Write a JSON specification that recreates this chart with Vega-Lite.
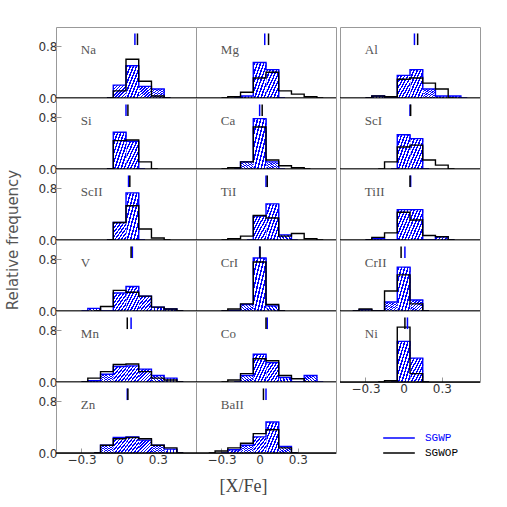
{
"$schema":"https://vega.github.io/schema/vega-lite/v6.json",
"padding":{"left":5,"top":26,"right":5,"bottom":5},
"title":{"text":"[X/Fe]","orient":"bottom","anchor":"middle","font":"Liberation Serif","fontSize":18,"fontWeight":"normal","color":"#444","offset":13},
"data":{"values":[
{"e":"Na","g":"SGWP","x":-0.1,"f":0},{"e":"Na","g":"SGWP","x":0,"f":0.2},{"e":"Na","g":"SGWP","x":0.1,"f":0.5},{"e":"Na","g":"SGWP","x":0.2,"f":0.18},{"e":"Na","g":"SGWP","x":0.3,"f":0.14},{"e":"Na","g":"SGWP","x":0.4,"f":0},
{"e":"Na","g":"SGWOP","x":-0.1,"f":0},{"e":"Na","g":"SGWOP","x":0,"f":0.11},{"e":"Na","g":"SGWOP","x":0.1,"f":0.6},{"e":"Na","g":"SGWOP","x":0.2,"f":0.26},{"e":"Na","g":"SGWOP","x":0.3,"f":0.03},{"e":"Na","g":"SGWOP","x":0.4,"f":0},
{"e":"Mg","g":"SGWP","x":-0.2,"f":0},{"e":"Mg","g":"SGWP","x":-0.1,"f":0.03},{"e":"Mg","g":"SGWP","x":0,"f":0.55},{"e":"Mg","g":"SGWP","x":0.1,"f":0.44},{"e":"Mg","g":"SGWP","x":0.2,"f":0},
{"e":"Mg","g":"SGWOP","x":-0.3,"f":0},{"e":"Mg","g":"SGWOP","x":-0.2,"f":0.02},{"e":"Mg","g":"SGWOP","x":-0.1,"f":0.09},{"e":"Mg","g":"SGWOP","x":0,"f":0.31},{"e":"Mg","g":"SGWOP","x":0.1,"f":0.4},{"e":"Mg","g":"SGWOP","x":0.2,"f":0.11},{"e":"Mg","g":"SGWOP","x":0.3,"f":0.06},{"e":"Mg","g":"SGWOP","x":0.4,"f":0.02},{"e":"Mg","g":"SGWOP","x":0.5,"f":0},
{"e":"Al","g":"SGWP","x":-0.3,"f":0},{"e":"Al","g":"SGWP","x":-0.2,"f":0.03},{"e":"Al","g":"SGWP","x":-0.1,"f":0},{"e":"Al","g":"SGWP","x":0,"f":0.35},{"e":"Al","g":"SGWP","x":0.1,"f":0.44},{"e":"Al","g":"SGWP","x":0.2,"f":0.14},{"e":"Al","g":"SGWP","x":0.3,"f":0.03},{"e":"Al","g":"SGWP","x":0.4,"f":0.03},{"e":"Al","g":"SGWP","x":0.5,"f":0},
{"e":"Al","g":"SGWOP","x":-0.3,"f":0},{"e":"Al","g":"SGWOP","x":-0.2,"f":0.03},{"e":"Al","g":"SGWOP","x":-0.1,"f":0.02},{"e":"Al","g":"SGWOP","x":0,"f":0.29},{"e":"Al","g":"SGWOP","x":0.1,"f":0.31},{"e":"Al","g":"SGWOP","x":0.2,"f":0.23},{"e":"Al","g":"SGWOP","x":0.3,"f":0.14},{"e":"Al","g":"SGWOP","x":0.4,"f":0},
{"e":"Si","g":"SGWP","x":-0.1,"f":0},{"e":"Si","g":"SGWP","x":0,"f":0.57},{"e":"Si","g":"SGWP","x":0.1,"f":0.43},{"e":"Si","g":"SGWP","x":0.2,"f":0},
{"e":"Si","g":"SGWOP","x":-0.1,"f":0},{"e":"Si","g":"SGWOP","x":0,"f":0.44},{"e":"Si","g":"SGWOP","x":0.1,"f":0.45},{"e":"Si","g":"SGWOP","x":0.2,"f":0.11},{"e":"Si","g":"SGWOP","x":0.3,"f":0},
{"e":"Ca","g":"SGWP","x":-0.2,"f":0},{"e":"Ca","g":"SGWP","x":-0.1,"f":0.11},{"e":"Ca","g":"SGWP","x":0,"f":0.78},{"e":"Ca","g":"SGWP","x":0.1,"f":0.11},{"e":"Ca","g":"SGWP","x":0.2,"f":0},
{"e":"Ca","g":"SGWOP","x":-0.3,"f":0},{"e":"Ca","g":"SGWOP","x":-0.2,"f":0.02},{"e":"Ca","g":"SGWOP","x":-0.1,"f":0.11},{"e":"Ca","g":"SGWOP","x":0,"f":0.65},{"e":"Ca","g":"SGWOP","x":0.1,"f":0.14},{"e":"Ca","g":"SGWOP","x":0.2,"f":0.05},{"e":"Ca","g":"SGWOP","x":0.3,"f":0.02},{"e":"Ca","g":"SGWOP","x":0.4,"f":0},
{"e":"ScI","g":"SGWP","x":-0.1,"f":0},{"e":"ScI","g":"SGWP","x":0,"f":0.53},{"e":"ScI","g":"SGWP","x":0.1,"f":0.47},{"e":"ScI","g":"SGWP","x":0.2,"f":0},
{"e":"ScI","g":"SGWOP","x":-0.2,"f":0},{"e":"ScI","g":"SGWOP","x":-0.1,"f":0.11},{"e":"ScI","g":"SGWOP","x":0,"f":0.34},{"e":"ScI","g":"SGWOP","x":0.1,"f":0.37},{"e":"ScI","g":"SGWOP","x":0.2,"f":0.14},{"e":"ScI","g":"SGWOP","x":0.3,"f":0.06},{"e":"ScI","g":"SGWOP","x":0.4,"f":0},
{"e":"ScII","g":"SGWP","x":-0.1,"f":0},{"e":"ScII","g":"SGWP","x":0,"f":0.27},{"e":"ScII","g":"SGWP","x":0.1,"f":0.73},{"e":"ScII","g":"SGWP","x":0.2,"f":0},
{"e":"ScII","g":"SGWOP","x":-0.1,"f":0},{"e":"ScII","g":"SGWOP","x":0,"f":0.27},{"e":"ScII","g":"SGWOP","x":0.1,"f":0.53},{"e":"ScII","g":"SGWOP","x":0.2,"f":0.17},{"e":"ScII","g":"SGWOP","x":0.3,"f":0.03},{"e":"ScII","g":"SGWOP","x":0.4,"f":0},
{"e":"TiI","g":"SGWP","x":-0.1,"f":0},{"e":"TiI","g":"SGWP","x":0,"f":0.37},{"e":"TiI","g":"SGWP","x":0.1,"f":0.56},{"e":"TiI","g":"SGWP","x":0.2,"f":0.08},{"e":"TiI","g":"SGWP","x":0.3,"f":0},
{"e":"TiI","g":"SGWOP","x":-0.3,"f":0},{"e":"TiI","g":"SGWOP","x":-0.2,"f":0.02},{"e":"TiI","g":"SGWOP","x":-0.1,"f":0.06},{"e":"TiI","g":"SGWOP","x":0,"f":0.38},{"e":"TiI","g":"SGWOP","x":0.1,"f":0.34},{"e":"TiI","g":"SGWOP","x":0.2,"f":0.06},{"e":"TiI","g":"SGWOP","x":0.3,"f":0.1},{"e":"TiI","g":"SGWOP","x":0.4,"f":0.02},{"e":"TiI","g":"SGWOP","x":0.5,"f":0},
{"e":"TiII","g":"SGWP","x":-0.3,"f":0},{"e":"TiII","g":"SGWP","x":-0.2,"f":0.02},{"e":"TiII","g":"SGWP","x":-0.1,"f":0},{"e":"TiII","g":"SGWP","x":0,"f":0.47},{"e":"TiII","g":"SGWP","x":0.1,"f":0.47},{"e":"TiII","g":"SGWP","x":0.2,"f":0},{"e":"TiII","g":"SGWP","x":0.3,"f":0.05},{"e":"TiII","g":"SGWP","x":0.4,"f":0},
{"e":"TiII","g":"SGWOP","x":-0.3,"f":0},{"e":"TiII","g":"SGWOP","x":-0.2,"f":0.04},{"e":"TiII","g":"SGWOP","x":-0.1,"f":0.11},{"e":"TiII","g":"SGWOP","x":0,"f":0.43},{"e":"TiII","g":"SGWOP","x":0.1,"f":0.31},{"e":"TiII","g":"SGWOP","x":0.2,"f":0.07},{"e":"TiII","g":"SGWOP","x":0.3,"f":0.05},{"e":"TiII","g":"SGWOP","x":0.4,"f":0},
{"e":"V","g":"SGWP","x":-0.3,"f":0},{"e":"V","g":"SGWP","x":-0.2,"f":0.04},{"e":"V","g":"SGWP","x":-0.1,"f":0},{"e":"V","g":"SGWP","x":0,"f":0.28},{"e":"V","g":"SGWP","x":0.1,"f":0.38},{"e":"V","g":"SGWP","x":0.2,"f":0.23},{"e":"V","g":"SGWP","x":0.3,"f":0.06},{"e":"V","g":"SGWP","x":0.4,"f":0.03},{"e":"V","g":"SGWP","x":0.5,"f":0},
{"e":"V","g":"SGWOP","x":-0.2,"f":0},{"e":"V","g":"SGWOP","x":-0.1,"f":0.07},{"e":"V","g":"SGWOP","x":0,"f":0.32},{"e":"V","g":"SGWOP","x":0.1,"f":0.29},{"e":"V","g":"SGWOP","x":0.2,"f":0.23},{"e":"V","g":"SGWOP","x":0.3,"f":0.06},{"e":"V","g":"SGWOP","x":0.4,"f":0.03},{"e":"V","g":"SGWOP","x":0.5,"f":0},
{"e":"CrI","g":"SGWP","x":-0.3,"f":0},{"e":"CrI","g":"SGWP","x":-0.2,"f":0.01},{"e":"CrI","g":"SGWP","x":-0.1,"f":0.1},{"e":"CrI","g":"SGWP","x":0,"f":0.82},{"e":"CrI","g":"SGWP","x":0.1,"f":0.08},{"e":"CrI","g":"SGWP","x":0.2,"f":0},
{"e":"CrI","g":"SGWOP","x":-0.3,"f":0},{"e":"CrI","g":"SGWOP","x":-0.2,"f":0.03},{"e":"CrI","g":"SGWOP","x":-0.1,"f":0.11},{"e":"CrI","g":"SGWOP","x":0,"f":0.76},{"e":"CrI","g":"SGWOP","x":0.1,"f":0.1},{"e":"CrI","g":"SGWOP","x":0.2,"f":0},
{"e":"CrII","g":"SGWP","x":-0.4,"f":0},{"e":"CrII","g":"SGWP","x":-0.3,"f":0.02},{"e":"CrII","g":"SGWP","x":-0.2,"f":0},{"e":"CrII","g":"SGWP","x":-0.1,"f":0.14},{"e":"CrII","g":"SGWP","x":0,"f":0.68},{"e":"CrII","g":"SGWP","x":0.1,"f":0.17},{"e":"CrII","g":"SGWP","x":0.2,"f":0},
{"e":"CrII","g":"SGWOP","x":-0.4,"f":0},{"e":"CrII","g":"SGWOP","x":-0.3,"f":0.03},{"e":"CrII","g":"SGWOP","x":-0.2,"f":0},{"e":"CrII","g":"SGWOP","x":-0.1,"f":0.31},{"e":"CrII","g":"SGWOP","x":0,"f":0.56},{"e":"CrII","g":"SGWOP","x":0.1,"f":0.11},{"e":"CrII","g":"SGWOP","x":0.2,"f":0},
{"e":"Mn","g":"SGWP","x":-0.3,"f":0},{"e":"Mn","g":"SGWP","x":-0.2,"f":0.02},{"e":"Mn","g":"SGWP","x":-0.1,"f":0.12},{"e":"Mn","g":"SGWP","x":0,"f":0.24},{"e":"Mn","g":"SGWP","x":0.1,"f":0.25},{"e":"Mn","g":"SGWP","x":0.2,"f":0.2},{"e":"Mn","g":"SGWP","x":0.3,"f":0.1},{"e":"Mn","g":"SGWP","x":0.4,"f":0.06},{"e":"Mn","g":"SGWP","x":0.5,"f":0},
{"e":"Mn","g":"SGWOP","x":-0.3,"f":0},{"e":"Mn","g":"SGWOP","x":-0.2,"f":0.06},{"e":"Mn","g":"SGWOP","x":-0.1,"f":0.16},{"e":"Mn","g":"SGWOP","x":0,"f":0.27},{"e":"Mn","g":"SGWOP","x":0.1,"f":0.28},{"e":"Mn","g":"SGWOP","x":0.2,"f":0.16},{"e":"Mn","g":"SGWOP","x":0.3,"f":0.06},{"e":"Mn","g":"SGWOP","x":0.4,"f":0.03},{"e":"Mn","g":"SGWOP","x":0.5,"f":0},
{"e":"Co","g":"SGWP","x":-0.2,"f":0},{"e":"Co","g":"SGWP","x":-0.1,"f":0.1},{"e":"Co","g":"SGWP","x":0,"f":0.43},{"e":"Co","g":"SGWP","x":0.1,"f":0.3},{"e":"Co","g":"SGWP","x":0.2,"f":0.07},{"e":"Co","g":"SGWP","x":0.3,"f":0},{"e":"Co","g":"SGWP","x":0.4,"f":0.1},{"e":"Co","g":"SGWP","x":0.5,"f":0},
{"e":"Co","g":"SGWOP","x":-0.3,"f":0},{"e":"Co","g":"SGWOP","x":-0.2,"f":0.03},{"e":"Co","g":"SGWOP","x":-0.1,"f":0.13},{"e":"Co","g":"SGWOP","x":0,"f":0.36},{"e":"Co","g":"SGWOP","x":0.1,"f":0.33},{"e":"Co","g":"SGWOP","x":0.2,"f":0.1},{"e":"Co","g":"SGWOP","x":0.3,"f":0.05},{"e":"Co","g":"SGWOP","x":0.4,"f":0},
{"e":"Ni","g":"SGWP","x":-0.1,"f":0},{"e":"Ni","g":"SGWP","x":0,"f":0.63},{"e":"Ni","g":"SGWP","x":0.1,"f":0.37},{"e":"Ni","g":"SGWP","x":0.2,"f":0},
{"e":"Ni","g":"SGWOP","x":-0.2,"f":0},{"e":"Ni","g":"SGWOP","x":-0.1,"f":0.02},{"e":"Ni","g":"SGWOP","x":0,"f":0.85},{"e":"Ni","g":"SGWOP","x":0.1,"f":0.13},{"e":"Ni","g":"SGWOP","x":0.2,"f":0},
{"e":"Zn","g":"SGWP","x":-0.2,"f":0},{"e":"Zn","g":"SGWP","x":-0.1,"f":0.12},{"e":"Zn","g":"SGWP","x":0,"f":0.24},{"e":"Zn","g":"SGWP","x":0.1,"f":0.25},{"e":"Zn","g":"SGWP","x":0.2,"f":0.2},{"e":"Zn","g":"SGWP","x":0.3,"f":0.12},{"e":"Zn","g":"SGWP","x":0.4,"f":0.06},{"e":"Zn","g":"SGWP","x":0.5,"f":0},
{"e":"Zn","g":"SGWOP","x":-0.2,"f":0},{"e":"Zn","g":"SGWOP","x":-0.1,"f":0.12},{"e":"Zn","g":"SGWOP","x":0,"f":0.22},{"e":"Zn","g":"SGWOP","x":0.1,"f":0.24},{"e":"Zn","g":"SGWOP","x":0.2,"f":0.22},{"e":"Zn","g":"SGWOP","x":0.3,"f":0.12},{"e":"Zn","g":"SGWOP","x":0.4,"f":0.08},{"e":"Zn","g":"SGWOP","x":0.5,"f":0},
{"e":"BaII","g":"SGWP","x":-0.3,"f":0},{"e":"BaII","g":"SGWP","x":-0.2,"f":0.05},{"e":"BaII","g":"SGWP","x":-0.1,"f":0.12},{"e":"BaII","g":"SGWP","x":0,"f":0.25},{"e":"BaII","g":"SGWP","x":0.1,"f":0.48},{"e":"BaII","g":"SGWP","x":0.2,"f":0.1},{"e":"BaII","g":"SGWP","x":0.3,"f":0},
{"e":"BaII","g":"SGWOP","x":-0.4,"f":0},{"e":"BaII","g":"SGWOP","x":-0.3,"f":0.03},{"e":"BaII","g":"SGWOP","x":-0.2,"f":0.08},{"e":"BaII","g":"SGWOP","x":-0.1,"f":0.15},{"e":"BaII","g":"SGWOP","x":0,"f":0.3},{"e":"BaII","g":"SGWOP","x":0.1,"f":0.36},{"e":"BaII","g":"SGWOP","x":0.2,"f":0.08},{"e":"BaII","g":"SGWOP","x":0.3,"f":0},
{"e":"Na","g":"SGWP","m":0.12},{"e":"Na","g":"SGWOP","m":0.14},
{"e":"Mg","g":"SGWP","m":0.04},{"e":"Mg","g":"SGWOP","m":0.07},
{"e":"Al","g":"SGWP","m":0.085},{"e":"Al","g":"SGWOP","m":0.11},
{"e":"Si","g":"SGWP","m":0.05},{"e":"Si","g":"SGWOP","m":0.065},
{"e":"Ca","g":"SGWP","m":0.0},{"e":"Ca","g":"SGWOP","m":0.02},
{"e":"ScI","g":"SGWP","m":0.05},{"e":"ScI","g":"SGWOP","m":0.055},
{"e":"ScII","g":"SGWP","m":0.07},{"e":"ScII","g":"SGWOP","m":0.08},
{"e":"TiI","g":"SGWP","m":0.05},{"e":"TiI","g":"SGWOP","m":0.06},
{"e":"TiII","g":"SGWP","m":0.055},{"e":"TiII","g":"SGWOP","m":0.05},
{"e":"V","g":"SGWP","m":0.1},{"e":"V","g":"SGWOP","m":0.09},
{"e":"CrI","g":"SGWP","m":0.0},{"e":"CrI","g":"SGWOP","m":0.003},
{"e":"CrII","g":"SGWP","m":0.01},{"e":"CrII","g":"SGWOP","m":-0.02},
{"e":"Mn","g":"SGWP","m":0.09},{"e":"Mn","g":"SGWOP","m":0.06},
{"e":"Co","g":"SGWP","m":0.06},{"e":"Co","g":"SGWOP","m":0.05},
{"e":"Ni","g":"SGWP","m":0.03},{"e":"Ni","g":"SGWOP","m":0.01},
{"e":"Zn","g":"SGWP","m":0.06},{"e":"Zn","g":"SGWOP","m":0.065},
{"e":"BaII","g":"SGWP","m":0.05},{"e":"BaII","g":"SGWOP","m":0.03}
]},
"spacing":0,
"hconcat":[
{
"transform":[{"filter":{"field":"e","oneOf":["Na","Mg","Si","Ca","ScII","TiI","V","CrI","Mn","Co","Zn","BaII"]}}],
"facet":{"field":"e","type":"nominal","sort":["Na","Mg","Si","Ca","ScII","TiI","V","CrI","Mn","Co","Zn","BaII"],
 "header":{"title":"Relative frequency","titleOrient":"left","titleAngle":-90,"titleAnchor":"middle","labels":false,"labelExpr":"''","labelFontSize":0,"labelPadding":0,"titleFont":"DejaVu Sans","titleFontSize":15,"titleFontWeight":"normal","titleColor":"#555","titlePadding":1}},
"columns":2,
"spacing":0,
"bounds":"flush",
"spec":{
 "width":140,"height":71,
 "layer":[
  {"transform":[{"filter":"datum.g === 'SGWP' && datum.f > 0"}],
   "mark":{"type":"bar","binSpacing":0,"clip":true,"strokeWidth":0,
    "fill":{"gradient":"linear","x1":0,"y1":0,"x2":1,"y2":1,"stops":[
     {"offset":0,"color":"#0000ff"},{"offset":0.06,"color":"#0000ff"},{"offset":0.06,"color":"#ffffff"},{"offset":0.125,"color":"#ffffff"},
     {"offset":0.125,"color":"#0000ff"},{"offset":0.185,"color":"#0000ff"},{"offset":0.185,"color":"#ffffff"},{"offset":0.25,"color":"#ffffff"},
     {"offset":0.25,"color":"#0000ff"},{"offset":0.31,"color":"#0000ff"},{"offset":0.31,"color":"#ffffff"},{"offset":0.375,"color":"#ffffff"},
     {"offset":0.375,"color":"#0000ff"},{"offset":0.435,"color":"#0000ff"},{"offset":0.435,"color":"#ffffff"},{"offset":0.5,"color":"#ffffff"},
     {"offset":0.5,"color":"#0000ff"},{"offset":0.56,"color":"#0000ff"},{"offset":0.56,"color":"#ffffff"},{"offset":0.625,"color":"#ffffff"},
     {"offset":0.625,"color":"#0000ff"},{"offset":0.685,"color":"#0000ff"},{"offset":0.685,"color":"#ffffff"},{"offset":0.75,"color":"#ffffff"},
     {"offset":0.75,"color":"#0000ff"},{"offset":0.81,"color":"#0000ff"},{"offset":0.81,"color":"#ffffff"},{"offset":0.875,"color":"#ffffff"},
     {"offset":0.875,"color":"#0000ff"},{"offset":0.935,"color":"#0000ff"},{"offset":0.935,"color":"#ffffff"},{"offset":1,"color":"#ffffff"}]}},
   "encoding":{
    "x":{"field":"x","type":"quantitative","bin":{"step":0.1,"extent":[-0.55,0.65],"nice":false},"scale":{"domain":[-0.445,0.515]},"title":null,
      "axis":{"values":[-0.3,0,0.3],"format":".1~f","domain":false,"grid":false,"tickSize":-5,"tickColor":"#999","labelPadding":6,"labelFont":"DejaVu Sans","labelFontSize":12,"labelColor":"#333"}},
    "y":{"field":"f","type":"quantitative","scale":{"domain":[0,1.01]},"title":null,
      "axis":{"values":[0,0.4,0.8],"domain":false,"grid":false,"tickSize":-5,"tickColor":"#999","labelPadding":4,"labelFont":"DejaVu Sans","labelFontSize":12,"labelColor":"#333"}}
   }},
  {"transform":[{"filter":"datum.g === 'SGWP' && isValid(datum.f)"}],
   "mark":{"type":"line","interpolate":"step","strokeWidth":1.4,"clip":true},
   "encoding":{"x":{"field":"x","type":"quantitative"},"y":{"field":"f","type":"quantitative"},
    "color":{"field":"g","type":"nominal","scale":{"domain":["SGWP","SGWOP"],"range":["#0000ff","#000000"]},
      "legend":{"orient":"none","legendX":326,"legendY":404,"title":null,"symbolType":"stroke","symbolSize":1000,"symbolStrokeWidth":1.5,"labelFont":"Liberation Mono","labelFontSize":11,"clipHeight":14,"rowPadding":1,"labelOffset":9,"padding":0,
        "encode":{"labels":{"update":{"fill":{"signal":"datum.value === 'SGWP' ? '#0000ff' : '#000000'"}}}}}}}},
  {"transform":[{"filter":"datum.g === 'SGWOP' && isValid(datum.f)"}],
   "mark":{"type":"line","interpolate":"step","strokeWidth":1.4,"clip":true},
   "encoding":{"x":{"field":"x","type":"quantitative"},"y":{"field":"f","type":"quantitative"},
    "color":{"field":"g","type":"nominal"}}},
  {"transform":[{"filter":"datum.g === 'SGWP' && isValid(datum.m)"}],
   "mark":{"type":"rule","color":"#000000","strokeWidth":1.4},
   "encoding":{"y":{"datum":0}}},
  {"transform":[{"filter":"isValid(datum.m)"}],
   "mark":{"type":"rule","strokeWidth":1.5},
   "encoding":{"x":{"field":"m","type":"quantitative"},"y":{"datum":1.0},"y2":{"datum":0.82},
    "color":{"field":"g","type":"nominal"}}},
  {"transform":[{"filter":"datum.g === 'SGWP' && isValid(datum.m)"}],
   "mark":{"type":"text","align":"left","baseline":"middle","font":"Liberation Serif","fontSize":13,"color":"#555"},
   "encoding":{"text":{"field":"e"},"x":{"datum":-0.305},"y":{"datum":0.75}}}
 ]
}
},
{
"transform":[{"filter":{"field":"e","oneOf":["Al","ScI","TiII","CrII","Ni"]}}],
"facet":{"field":"e","type":"nominal","sort":["Al","ScI","TiII","CrII","Ni"],
 "header":{"title":null,"labels":false,"labelExpr":"''","labelFontSize":0,"labelPadding":0}},
"columns":1,
"spacing":0,
"bounds":"flush",
"spec":{
 "width":140,"height":71,
 "layer":[
  {"transform":[{"filter":"datum.g === 'SGWP' && datum.f > 0"}],
   "mark":{"type":"bar","binSpacing":0,"clip":true,"strokeWidth":0,
    "fill":{"gradient":"linear","x1":0,"y1":0,"x2":1,"y2":1,"stops":[
     {"offset":0,"color":"#0000ff"},{"offset":0.06,"color":"#0000ff"},{"offset":0.06,"color":"#ffffff"},{"offset":0.125,"color":"#ffffff"},
     {"offset":0.125,"color":"#0000ff"},{"offset":0.185,"color":"#0000ff"},{"offset":0.185,"color":"#ffffff"},{"offset":0.25,"color":"#ffffff"},
     {"offset":0.25,"color":"#0000ff"},{"offset":0.31,"color":"#0000ff"},{"offset":0.31,"color":"#ffffff"},{"offset":0.375,"color":"#ffffff"},
     {"offset":0.375,"color":"#0000ff"},{"offset":0.435,"color":"#0000ff"},{"offset":0.435,"color":"#ffffff"},{"offset":0.5,"color":"#ffffff"},
     {"offset":0.5,"color":"#0000ff"},{"offset":0.56,"color":"#0000ff"},{"offset":0.56,"color":"#ffffff"},{"offset":0.625,"color":"#ffffff"},
     {"offset":0.625,"color":"#0000ff"},{"offset":0.685,"color":"#0000ff"},{"offset":0.685,"color":"#ffffff"},{"offset":0.75,"color":"#ffffff"},
     {"offset":0.75,"color":"#0000ff"},{"offset":0.81,"color":"#0000ff"},{"offset":0.81,"color":"#ffffff"},{"offset":0.875,"color":"#ffffff"},
     {"offset":0.875,"color":"#0000ff"},{"offset":0.935,"color":"#0000ff"},{"offset":0.935,"color":"#ffffff"},{"offset":1,"color":"#ffffff"}]}},
   "encoding":{
    "x":{"field":"x","type":"quantitative","bin":{"step":0.1,"extent":[-0.55,0.65],"nice":false},"scale":{"domain":[-0.445,0.515]},"title":null,
      "axis":{"values":[-0.3,0,0.3],"format":".1~f","domain":false,"grid":false,"tickSize":-5,"tickColor":"#999","labelPadding":6,"labelFont":"DejaVu Sans","labelFontSize":12,"labelColor":"#333"}},
    "y":{"field":"f","type":"quantitative","scale":{"domain":[0,1.01]},"title":null,"axis":null}
   }},
  {"transform":[{"filter":"datum.g === 'SGWP' && isValid(datum.f)"}],
   "mark":{"type":"line","interpolate":"step","strokeWidth":1.4,"clip":true},
   "encoding":{"x":{"field":"x","type":"quantitative"},"y":{"field":"f","type":"quantitative","axis":null},
    "color":{"field":"g","type":"nominal","legend":null}}},
  {"transform":[{"filter":"datum.g === 'SGWOP' && isValid(datum.f)"}],
   "mark":{"type":"line","interpolate":"step","strokeWidth":1.4,"clip":true},
   "encoding":{"x":{"field":"x","type":"quantitative"},"y":{"field":"f","type":"quantitative","axis":null},
    "color":{"field":"g","type":"nominal","legend":null}}},
  {"transform":[{"filter":"datum.g === 'SGWP' && isValid(datum.m)"}],
   "mark":{"type":"rule","color":"#000000","strokeWidth":1.4},
   "encoding":{"y":{"datum":0,"axis":null}}},
  {"transform":[{"filter":"isValid(datum.m)"}],
   "mark":{"type":"rule","strokeWidth":1.5},
   "encoding":{"x":{"field":"m","type":"quantitative"},"y":{"datum":1.0,"axis":null},"y2":{"datum":0.82},
    "color":{"field":"g","type":"nominal","legend":null}}},
  {"transform":[{"filter":"datum.g === 'SGWP' && isValid(datum.m)"}],
   "mark":{"type":"text","align":"left","baseline":"middle","font":"Liberation Serif","fontSize":13,"color":"#555"},
   "encoding":{"text":{"field":"e"},"x":{"datum":-0.305},"y":{"datum":0.75,"axis":null}}}
 ]
}
}
],
"config":{"view":{"stroke":"#999","strokeWidth":1},"header":{"labels":false,"labelFontSize":0,"labelPadding":0},"facet":{"spacing":0}}
}
